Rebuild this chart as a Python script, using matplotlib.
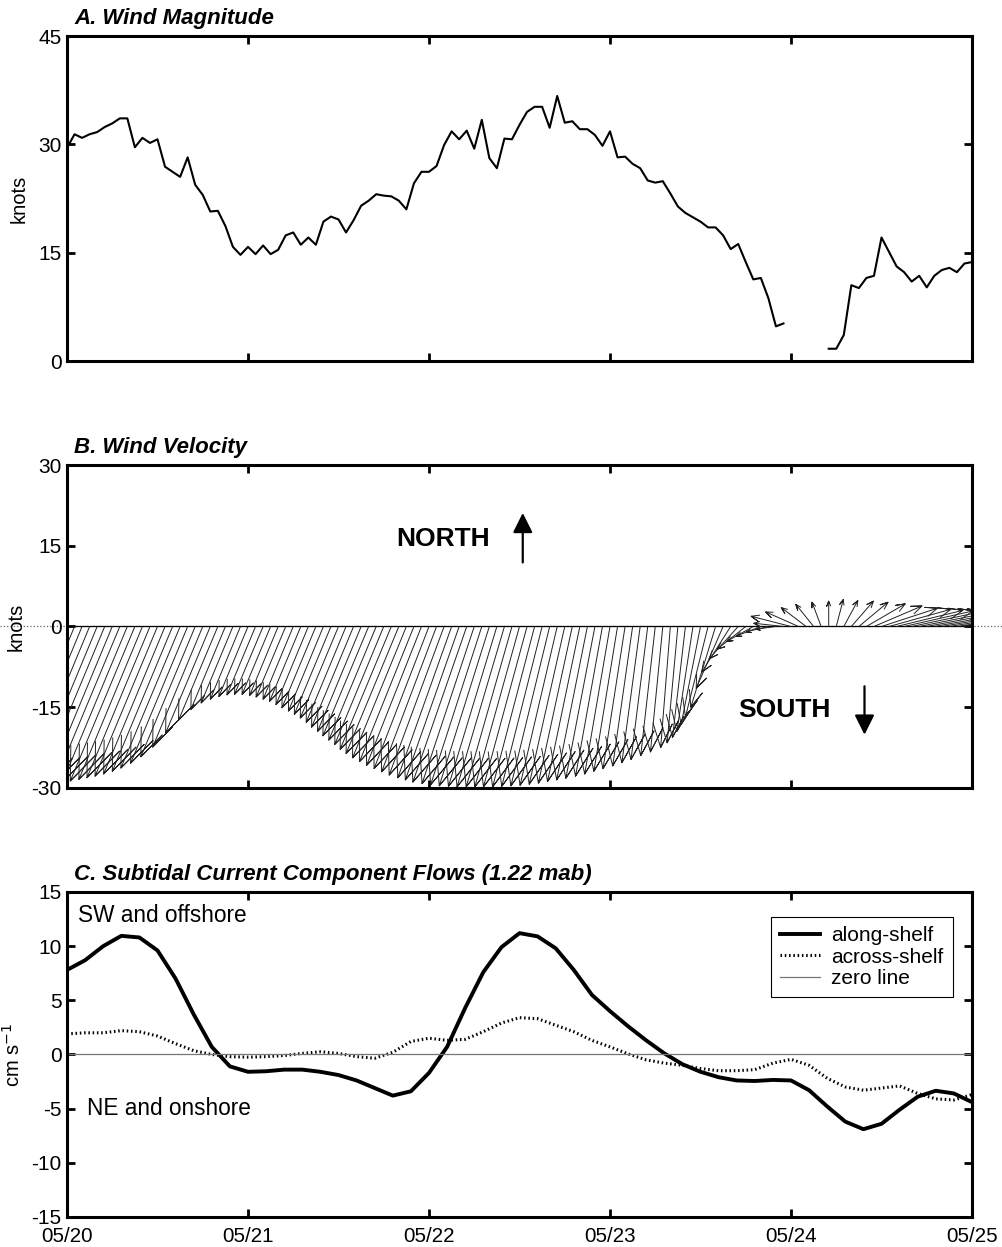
import numpy as np
import matplotlib
matplotlib.use("Agg")
import matplotlib.pyplot as plt
from matplotlib.collections import LineCollection

plt.rcParams['font.family'] = ['Liberation Sans', 'DejaVu Sans']
plt.rcParams['axes.unicode_minus'] = False

# x axis: days after 05/20 00:00
day_ticks = [0, 1, 2, 3, 4, 5]
day_labels = ['05/20', '05/21', '05/22', '05/23', '05/24', '05/25']

# A. hourly wind speed (knots); NaN = station gap
wind_speed = [
    29.5, 31.4, 30.9, 31.4, 31.7, 32.4, 32.9, 33.6, 33.6, 29.6,
    30.9, 30.2, 30.7, 26.9, 26.2, 25.5, 28.2, 24.4, 23.0, 20.7,
    20.8, 18.7, 15.8, 14.7, 15.8, 14.8, 16.0, 14.8, 15.4, 17.4,
    17.8, 16.1, 17.1, 16.1, 19.3, 20.0, 19.6, 17.8, 19.5, 21.5,
    22.2, 23.1, 22.9, 22.8, 22.2, 21.0, 24.6, 26.2, 26.2, 27.0,
    29.9, 31.8, 30.7, 31.9, 29.4, 33.4, 28.1, 26.7, 30.8, 30.7,
    32.7, 34.5, 35.2, 35.2, 32.3, 36.7, 33.0, 33.2, 32.1, 32.1,
    31.3, 29.8, 31.8, 28.2, 28.3, 27.3, 26.7, 25.0, 24.7, 24.9,
    23.2, 21.4, 20.5, 19.9, 19.3, 18.5, 18.5, 17.4, 15.5, 16.2,
    13.7, 11.3, 11.5, 8.7, 4.8, 5.2, np.nan, np.nan, np.nan, np.nan,
    np.nan, 1.7, 1.7, 3.6, 10.5, 10.1, 11.5, 11.8, 17.1, 15.1,
    13.1, 12.3, 11.0, 11.8, 10.2, 11.8, 12.6, 12.9, 12.3, 13.5,
    13.7,
]

# B. hourly wind vector components (knots), east and north
wind_u = [
    -12.3, -12.3, -12.3, -12.3, -12.3, -12.3, -12.2, -12.2, -12.1, -12.0,
    -11.8, -11.7, -11.6, -11.4, -11.2, -11.0, -10.6, -10.1, -9.3, -8.3,
    -7.3, -6.4, -5.9, -5.6, -5.4, -5.3, -5.3, -5.3, -5.3, -5.5,
    -5.6, -5.8, -6.0, -6.3, -6.5, -6.8, -7.1, -7.4, -7.8, -8.1,
    -8.5, -8.8, -9.1, -9.5, -9.8, -10.0, -10.1, -10.2, -10.2, -10.2,
    -10.2, -10.0, -10.0, -10.0, -9.7, -9.5, -9.3, -9.0, -8.8, -8.5,
    -8.3, -8.1, -7.8, -7.5, -7.2, -6.9, -6.6, -6.3, -6.0, -5.7,
    -5.4, -5.0, -4.7, -4.4, -4.1, -3.7, -3.4, -3.1, -2.7, -2.3,
    -1.8, -2.0, -2.4, -3.0, -3.6, -4.2, -4.6, -5.0, -5.4, -5.4,
    -5.3, -5.0, -4.6, -4.1, -3.7, -5.5, -7.4, -6.1, -4.6, -3.3,
    -1.7, 0.0, 1.3, 2.6, 4.1, 5.4, 7.2, 8.9, 10.4, 11.5,
    12.3, 12.8, 13.2, 13.5, 13.7, 13.9, 14.0, 14.1, 14.2, 14.2,
    14.2,
]
wind_v = [
    -29.5, -29.5, -29.6, -29.6, -29.6, -29.5, -29.4, -29.2, -29.0, -28.7,
    -28.4, -28.1, -27.8, -27.4, -26.9, -26.3, -25.4, -24.2, -22.4, -19.8,
    -17.4, -15.4, -14.2, -13.5, -13.0, -12.7, -12.6, -12.6, -12.8, -13.1,
    -13.5, -13.9, -14.5, -15.1, -15.7, -16.3, -17.0, -17.8, -18.7, -19.5,
    -20.3, -21.1, -21.9, -22.8, -23.6, -24.4, -25.1, -25.8, -26.4, -27.0,
    -27.6, -28.1, -28.5, -28.9, -29.2, -29.4, -29.6, -29.7, -29.8, -29.8,
    -29.8, -29.8, -29.8, -29.7, -29.6, -29.5, -29.3, -29.1, -28.8, -28.5,
    -28.2, -27.8, -27.4, -26.9, -26.4, -25.9, -25.3, -24.7, -24.0, -23.3,
    -22.5, -21.6, -20.6, -19.5, -18.2, -16.8, -15.0, -11.5, -8.5, -6.0,
    -4.2, -2.8, -1.8, -1.0, -0.5, 0.6, 1.9, 2.7, 3.5, 4.1,
    4.5, 4.7, 5.0, 4.8, 4.7, 4.5, 4.2, 3.8, 3.4, 3.2,
    3.0, 2.9, 2.8, 2.7, 2.6, 2.5, 2.4, 2.3, 2.2, 2.1,
    2.0,
]

# C. subtidal currents at 1.22 mab (cm/s), every 0.1 day
along_shelf = [
    7.8, 8.7, 10.0, 10.95, 10.8, 9.6, 7.0, 3.7, 0.7, -1.1,
    -1.6, -1.55, -1.4, -1.4, -1.6, -1.9, -2.4, -3.1, -3.8, -3.4,
    -1.7, 0.7, 4.3, 7.6, 9.9, 11.2, 10.9, 9.8, 7.8, 5.5,
    4.0, 2.6, 1.3, 0.1, -0.9, -1.6, -2.1, -2.4, -2.45, -2.35,
    -2.4, -3.3, -4.8, -6.2, -6.9, -6.4, -5.1, -3.9, -3.35, -3.6,
    -4.4,
]
across_shelf = [
    1.9, 2.0, 2.0, 2.2, 2.1, 1.7, 1.0, 0.35, 0.0, -0.2,
    -0.25, -0.2, -0.1, 0.1, 0.25, 0.1, -0.2, -0.35, 0.2, 1.2,
    1.5, 1.3, 1.4, 2.1, 2.9, 3.4, 3.3, 2.7, 2.1, 1.3,
    0.7, 0.05, -0.5, -0.8, -1.0, -1.3, -1.5, -1.5, -1.4, -0.8,
    -0.45, -1.0, -2.2, -3.0, -3.3, -3.1, -2.9, -3.6, -4.1, -4.2,
    -3.7,
]

wind_days = np.arange(len(wind_speed)) / 24.0
current_days = np.arange(len(along_shelf)) / 10.0


def feather(ax, t, u, v, head=0.2, wing=0.08, **kw):
    """Arrows rooted on the zero line, drawn with equal x/y pixel scale."""
    x0, x1 = ax.get_xlim()
    y0, y1 = ax.get_ylim()
    bb = ax.bbox
    k = (bb.height / (y1 - y0)) / (bb.width / (x1 - x0))  # days per knot
    paths = []
    for ti, ui, vi in zip(t, u, v):
        bx, by = ui * (1 - head), vi * (1 - head)
        pts = [(0, 0), (ui, vi), (bx - wing * vi, by + wing * ui),
               (ui, vi), (bx + wing * vi, by - wing * ui)]
        paths.append([(ti + px * k, py) for px, py in pts])
    ax.add_collection(LineCollection(paths, **kw))


def style_axes(ax, yticks, show_xlabels=False):
    ax.set_xlim(0, 5)
    ax.set_xticks(day_ticks)
    ax.set_xticklabels(day_labels if show_xlabels else [])
    ax.set_yticks(yticks)
    ax.set_ylim(yticks[0], yticks[-1])
    for sp in ax.spines.values():
        sp.set_linewidth(2.2)
    ax.tick_params(direction='in', length=5.8, width=2.0, top=True,
                   right=True)
    ax.tick_params(axis='y', pad=4, labelsize=15)
    ax.tick_params(axis='x', pad=7.2, labelsize=14.8)


def panel_title(ax, text):
    ax.text(0.008, 1.037, text, transform=ax.transAxes, fontsize=16,
            fontweight='bold', style='italic', va='baseline', ha='left')


fig = plt.figure(figsize=(10.03, 12.47), dpi=100)
left, width = 0.0668, 0.9023
ax_a = fig.add_axes([left, 0.7105, width, 0.2606])
ax_b = fig.add_axes([left, 0.3681, width, 0.2590])
ax_c = fig.add_axes([left, 0.0241, width, 0.2606])

# A. wind magnitude
ax_a.plot(wind_days, wind_speed, color='k', lw=1.5)
style_axes(ax_a, [0, 15, 30, 45])
ax_a.set_ylabel('knots', fontsize=14.5)
ax_a.yaxis.set_label_coords(-0.042, 0.5)
panel_title(ax_a, 'A. Wind Magnitude')

# B. wind velocity feather plot
style_axes(ax_b, [-30, -15, 0, 15, 30])
ax_b.plot([-0.37, 5.17], [0, 0], ls=':', color='#666666', lw=0.9,
          clip_on=False, zorder=0.5)
ax_b.axhline(0, color='k', lw=0.9, zorder=1)
feather(ax_b, wind_days, wind_u, wind_v, colors='#222222', linewidths=0.7,
        zorder=2)
ax_b.set_ylabel('knots', fontsize=14.5)
ax_b.yaxis.set_label_coords(-0.046, 0.5)
panel_title(ax_b, 'B. Wind Velocity')

box = dict(facecolor='white', edgecolor='none', pad=6)
ax_b.text(1.82, 16.2, 'NORTH', fontsize=19, fontweight='bold', va='center',
          ha='left', bbox=box, zorder=3)
ax_b.annotate('', xy=(2.518, 21.1), xytext=(2.518, 11.9),
              arrowprops=dict(arrowstyle='-|>,head_length=0.6,head_width=0.3',
                              color='k', lw=1.6, mutation_scale=20,
                              shrinkA=0, shrinkB=0), zorder=4)
ax_b.text(3.71, -15.6, 'SOUTH', fontsize=19, fontweight='bold', va='center',
          ha='left', bbox=box, zorder=3)
ax_b.annotate('', xy=(4.406, -20.1), xytext=(4.406, -11.1),
              arrowprops=dict(arrowstyle='-|>,head_length=0.6,head_width=0.3',
                              color='k', lw=1.6, mutation_scale=20,
                              shrinkA=0, shrinkB=0), zorder=4)

# C. subtidal current components
ax_c.plot(current_days, along_shelf, color='k', lw=2.8, label='along-shelf',
          solid_joinstyle='round')
ax_c.plot(current_days, across_shelf, color='k', lw=2.2, ls=(0, (0.5, 0.9)),
          label='across-shelf')
ax_c.axhline(0, color='#777777', lw=0.9, label='zero line')
style_axes(ax_c, [-15, -10, -5, 0, 5, 10, 15], show_xlabels=True)
ax_c.set_ylabel('cm s$^{-1}$', fontsize=14.5)
ax_c.yaxis.set_label_coords(-0.048, 0.5)
panel_title(ax_c, 'C. Subtidal Current Component Flows (1.22 mab)')
ax_c.text(0.06, 12.8, 'SW and offshore', fontsize=16.3, va='center', ha='left')
ax_c.text(0.11, -4.95, 'NE and onshore', fontsize=16.3, va='center', ha='left')

leg = ax_c.legend(loc='upper right', bbox_to_anchor=(0.979, 0.924),
                  fontsize=15, frameon=True, fancybox=False, shadow=False,
                  framealpha=1, edgecolor='k', borderpad=0.45,
                  labelspacing=0.12, handlelength=1.9, handletextpad=0.55,
                  borderaxespad=0)
leg.get_frame().set_linewidth(0.8)

fig.savefig('out.png', dpi=100)
